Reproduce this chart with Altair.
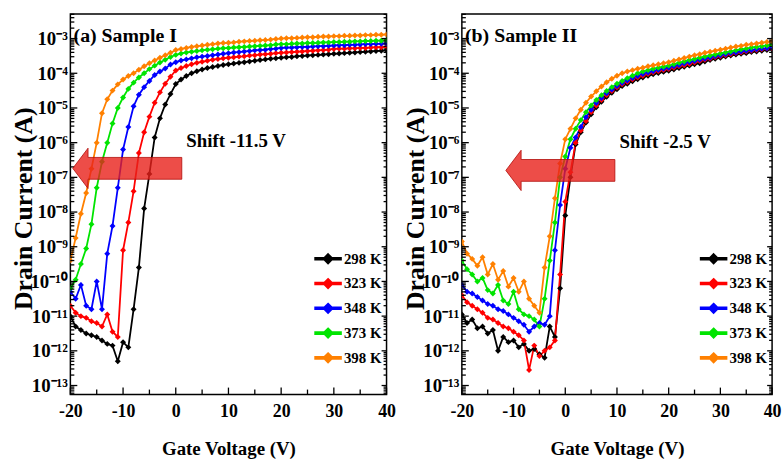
import math
import altair as alt
import pandas as pd

VOLTS = list(range(-20, 41))
TEMPS = ["298 K", "323 K", "348 K", "373 K", "398 K"]
COLORS = ["#000000", "#ff0000", "#0000ff", "#00e400", "#ff8000"]

# log10(Drain current / A), one value per volt from -20 V to 40 V
A_298 = [-11.0, -11.3, -11.4, -11.5, -11.55, -11.6, -11.7, -11.8, -11.85, -12.3,
         -11.75, -11.9, -10.8, -9.6, -7.9, -6.9, -5.85, -5.3, -4.9, -4.6,
         -4.31, -4.18, -4.08, -4.0, -3.94, -3.89, -3.85, -3.82, -3.79, -3.76,
         -3.74, -3.72, -3.70, -3.68, -3.66, -3.64, -3.62, -3.60, -3.58, -3.57,
         -3.55, -3.54, -3.53, -3.51, -3.50, -3.49, -3.48, -3.47, -3.46, -3.45,
         -3.44, -3.43, -3.42, -3.41, -3.40, -3.39, -3.38, -3.37, -3.36, -3.35, -3.34]
A_323 = [-10.7, -10.9, -11.0, -11.05, -11.15, -11.2, -11.3, -10.95, -11.45, -11.6,
         -9.1, -8.3, -7.4, -6.3, -5.7, -5.25, -4.85, -4.55, -4.3, -4.1,
         -3.92, -3.85, -3.79, -3.74, -3.70, -3.67, -3.64, -3.61, -3.59, -3.57,
         -3.55, -3.54, -3.52, -3.51, -3.49, -3.48, -3.46, -3.45, -3.44, -3.42,
         -3.41, -3.40, -3.39, -3.38, -3.37, -3.36, -3.35, -3.34, -3.33, -3.32,
         -3.30, -3.29, -3.29, -3.28, -3.28, -3.27, -3.27, -3.26, -3.25, -3.25, -3.24]
A_348 = [-10.3, -10.5, -10.1, -10.7, -10.8, -10.0, -10.8, -9.2, -8.4, -7.3,
         -6.2, -5.55, -4.95, -4.62, -4.40, -4.22, -4.05, -3.95, -3.86, -3.75,
         -3.68, -3.63, -3.60, -3.57, -3.54, -3.52, -3.50, -3.48, -3.46, -3.44,
         -3.42, -3.40, -3.39, -3.37, -3.36, -3.34, -3.33, -3.32, -3.30, -3.29,
         -3.27, -3.26, -3.26, -3.25, -3.24, -3.24, -3.23, -3.22, -3.22, -3.21,
         -3.20, -3.19, -3.19, -3.18, -3.18, -3.17, -3.16, -3.16, -3.15, -3.15, -3.14]
A_373 = [-10.2, -9.95, -9.5, -9.05, -8.35, -7.3, -6.55, -6.0, -5.45, -5.0,
         -4.7, -4.45, -4.27, -4.12, -4.0, -3.88, -3.78, -3.69, -3.61, -3.53,
         -3.47, -3.43, -3.40, -3.38, -3.36, -3.34, -3.32, -3.31, -3.29, -3.28,
         -3.27, -3.26, -3.25, -3.24, -3.23, -3.22, -3.21, -3.20, -3.19, -3.17,
         -3.16, -3.16, -3.15, -3.14, -3.14, -3.13, -3.13, -3.12, -3.11, -3.11,
         -3.10, -3.10, -3.09, -3.09, -3.08, -3.08, -3.07, -3.07, -3.06, -3.06, -3.05]
A_398 = [-9.4, -8.75, -8.05, -7.45, -6.75, -6.0, -5.15, -4.75, -4.5, -4.32,
         -4.18, -4.08, -4.0, -3.9, -3.8, -3.71, -3.63, -3.55, -3.48, -3.41,
         -3.33, -3.30, -3.27, -3.24, -3.22, -3.20, -3.18, -3.16, -3.14, -3.13,
         -3.12, -3.11, -3.09, -3.08, -3.07, -3.06, -3.05, -3.04, -3.03, -3.01,
         -3.00, -2.99, -2.99, -2.98, -2.97, -2.96, -2.96, -2.95, -2.94, -2.94,
         -2.93, -2.93, -2.92, -2.92, -2.91, -2.91, -2.90, -2.90, -2.89, -2.89, -2.88]

B_298 = [-10.95, -11.2, -11.1, -11.35, -11.3, -11.5, -11.4, -12.0, -11.6, -11.75,
         -11.7, -11.9, -11.8, -12.0, -11.95, -12.1, -12.2, -11.3, -11.6, -10.2,
         -8.1, -7.0, -6.05, -5.7, -5.42, -5.18, -4.98, -4.82, -4.68, -4.56,
         -4.46, -4.37, -4.30, -4.23, -4.17, -4.12, -4.07, -4.03, -3.99, -3.96,
         -3.93, -3.89, -3.85, -3.81, -3.78, -3.74, -3.71, -3.66, -3.62, -3.58,
         -3.55, -3.52, -3.49, -3.46, -3.44, -3.42, -3.39, -3.37, -3.35, -3.33, -3.31]
B_323 = [-10.4, -10.6, -10.7, -10.8, -10.9, -11.05, -11.1, -11.2, -11.3, -11.35,
         -11.45, -11.55, -11.7, -12.55, -11.85, -12.15, -12.0, -11.9, -11.7, -9.8,
         -7.7, -6.85, -6.0, -5.65, -5.38, -5.12, -4.93, -4.77, -4.63, -4.51,
         -4.41, -4.32, -4.25, -4.18, -4.12, -4.07, -4.02, -3.98, -3.94, -3.91,
         -3.88, -3.84, -3.80, -3.77, -3.73, -3.69, -3.65, -3.61, -3.58, -3.54,
         -3.51, -3.48, -3.45, -3.42, -3.40, -3.37, -3.35, -3.33, -3.31, -3.29, -3.27]
B_348 = [-10.1, -10.3, -10.35, -10.45, -10.55, -10.65, -10.7, -10.8, -10.85, -10.95,
         -11.05, -11.15, -11.25, -11.45, -11.3, -11.2, -11.25, -11.0, -9.1, -7.8,
         -6.75, -6.15, -5.85, -5.55, -5.27, -5.05, -4.86, -4.71, -4.58, -4.47,
         -4.37, -4.28, -4.21, -4.14, -4.08, -4.02, -3.98, -3.94, -3.90, -3.87,
         -3.84, -3.80, -3.76, -3.72, -3.68, -3.65, -3.61, -3.58, -3.55, -3.51,
         -3.48, -3.45, -3.42, -3.40, -3.37, -3.35, -3.33, -3.31, -3.29, -3.28, -3.26]
B_373 = [-9.4, -9.65, -9.8, -10.0, -9.9, -10.25, -10.35, -10.1, -10.55, -10.65,
         -10.3, -10.8, -10.95, -11.0, -11.1, -11.3, -10.5, -9.4, -8.3, -7.0,
         -6.4, -5.9, -5.6, -5.35, -5.12, -4.93, -4.77, -4.63, -4.51, -4.40,
         -4.30, -4.22, -4.14, -4.07, -4.0, -3.95, -3.91, -3.87, -3.84, -3.81,
         -3.78, -3.74, -3.70, -3.66, -3.62, -3.59, -3.55, -3.52, -3.49, -3.46,
         -3.43, -3.40, -3.37, -3.34, -3.31, -3.29, -3.26, -3.24, -3.22, -3.20, -3.18]
B_398 = [-8.85, -9.2, -9.35, -9.55, -9.3, -9.8, -9.5, -9.95, -9.7, -10.15,
         -9.9, -10.3, -10.0, -10.5, -10.7, -10.9, -9.6, -8.7, -7.6, -6.6,
         -5.9, -5.6, -5.3, -5.05, -4.85, -4.67, -4.52, -4.38, -4.26, -4.16,
         -4.07, -4.0, -3.95, -3.91, -3.87, -3.84, -3.80, -3.77, -3.74, -3.71,
         -3.68, -3.64, -3.60, -3.56, -3.52, -3.48, -3.45, -3.41, -3.38, -3.35,
         -3.32, -3.29, -3.26, -3.23, -3.21, -3.18, -3.16, -3.14, -3.12, -3.10, -3.08]

X_TICKS = [-20, -10, 0, 10, 20, 30, 40]
X_MINOR = [-15, -5, 5, 15, 25, 35]
Y_EXPONENTS = list(range(-13, -2))
Y_MAJOR = [10.0 ** e for e in Y_EXPONENTS]
Y_TICK_LABELS = ["10⁻¹³", "10⁻¹²", "10⁻¹¹", "10⁻¹⁰", "10⁻⁹", "10⁻⁸",
                 "10⁻⁷", "10⁻⁶", "10⁻⁵", "10⁻⁴", "10⁻³"]
Y_MIN_EXP, Y_MAX_EXP = -13.26, -2.29
Y_MINOR = [m * 10.0 ** e for e in range(-14, -2) for m in range(2, 10)
           if Y_MIN_EXP < e + math.log10(m) < Y_MAX_EXP]

PANEL_TITLES = ["(a) Sample I", "(b) Sample II"]
TITLE_POS = [(-19.4, -2.94), (-19.4, -2.94)]
SHIFT_TEXTS = ["Shift -11.5 V", "Shift -2.5 V"]
SHIFT_POS = [(2.0, -5.94), (10.5, -5.97)]
ARROW_POS = [(-9.2, -6.74), (-0.95, -6.8)]
LEGEND_X = [246, 240]
PANEL_W = [319, 313]
H = 384

FONT = "Liberation Serif"
ARROW_PATH = "M-1,0L-0.72,-0.37L-0.72,-0.2L1,-0.2L1,0.2L-0.72,0.2L-0.72,0.37Z"
LEGEND_SYMBOL = "M-1,-0.07H1V0.07H-1Z M0,-0.36L0.36,0L0,0.36L-0.36,0Z"


def panel(series, idx):
    rows = []
    for t, arr in zip(TEMPS, series):
        for v, lg in zip(VOLTS, arr):
            rows.append({"V": v, "I": 10.0 ** lg, "T": t})
    df = pd.DataFrame(rows)

    x_enc = alt.X("V:Q", scale=alt.Scale(domain=[-20, 40], nice=False, zero=False),
                  axis=alt.Axis(values=X_TICKS, labelExpr="'' + datum.value",
                                title="Gate Voltage (V)", ticks=False, domain=False, grid=False,
                                labelFont=FONT, labelFontSize=18, labelFontWeight="bold",
                                labelColor="black", labelPadding=8, labelFlush=False,
                                labelOverlap=False, titleFont=FONT, titleFontSize=19,
                                titleFontWeight="bold", titleColor="black", titleY=55,
                                titleBaseline="middle"))
    label_expr = "%s[round(log(datum.value)/LN10)+13]" % str(Y_TICK_LABELS).replace("'", '"')
    y_enc = alt.Y("I:Q", scale=alt.Scale(type="log", domain=[10 ** Y_MIN_EXP, 10 ** Y_MAX_EXP], nice=False),
                  axis=alt.Axis(values=Y_MAJOR, labelExpr=label_expr, title="Drain Current (A)",
                                ticks=False, domain=False, grid=False, labelFont=FONT,
                                labelFontSize=19, labelFontWeight="bold", labelColor="black",
                                labelPadding=3, labelOverlap=False, labelFlush=False,
                                titleFont=FONT, titleFontSize=26, titleFontWeight="bold",
                                titleColor="black", titleX=-47, titleY=H / 2 + 4,
                                titleBaseline="middle", titleAlign="center"))

    lines = alt.Chart(df).mark_line(
        strokeWidth=1.8, clip=True,
        point=alt.OverlayMarkDef(shape="diamond", filled=True, size=36)
    ).encode(
        x=x_enc, y=y_enc,
        color=alt.Color("T:N", scale=alt.Scale(domain=TEMPS, range=COLORS),
                        legend=alt.Legend(title=None, orient="none", legendX=LEGEND_X[idx], legendY=233,
                                          symbolType=LEGEND_SYMBOL, symbolSize=676, symbolStrokeWidth=1.8,
                                          labelFont=FONT, labelFontSize=15, labelFontWeight="bold",
                                          labelColor="black", rowPadding=2, labelOffset=2, padding=0)),
    )

    left = pd.DataFrame({"V": [-20] * len(Y_MAJOR), "I": Y_MAJOR})
    right = pd.DataFrame({"V": [40] * len(Y_MAJOR), "I": Y_MAJOR})
    left_m = pd.DataFrame({"V": [-20] * len(Y_MINOR), "I": Y_MINOR})
    right_m = pd.DataFrame({"V": [40] * len(Y_MINOR), "I": Y_MINOR})
    bot = pd.DataFrame({"V": X_TICKS, "I": [10 ** Y_MIN_EXP] * len(X_TICKS)})
    bot_m = pd.DataFrame({"V": X_MINOR, "I": [10 ** Y_MIN_EXP] * len(X_MINOR)})

    def hticks(d, length):
        return alt.Chart(d).mark_rule(x2Offset=length, strokeWidth=1.3, color="black").encode(
            x=x_enc, x2="V:Q", y=y_enc)

    def vticks(d, length):
        return alt.Chart(d).mark_rule(y2Offset=-length, strokeWidth=1.3, color="black").encode(
            x=x_enc, y=y_enc, y2="I:Q")

    tick_layers = [hticks(left, 7), hticks(right, -5), hticks(left_m, 4), hticks(right_m, -3),
                   vticks(bot, 7), vticks(bot_m, 5)]

    av, al = ARROW_POS[idx]
    arrow = alt.Chart(pd.DataFrame({"V": [av], "I": [10 ** al]})).mark_point(
        shape=ARROW_PATH, size=110 * 110, filled=True, fill="#e8201a", fillOpacity=0.8,
        stroke="#b00c08", strokeWidth=1, strokeOpacity=0.8
    ).encode(x=x_enc, y=y_enc)

    sv, sl = SHIFT_POS[idx]
    shift = alt.Chart(pd.DataFrame({"V": [sv], "I": [10 ** sl], "txt": [SHIFT_TEXTS[idx]]})).mark_text(
        align="left", baseline="middle", font=FONT, fontSize=19, fontWeight="bold", color="black"
    ).encode(x=x_enc, y=y_enc, text="txt:N")

    tv, tl = TITLE_POS[idx]
    ptitle = alt.Chart(pd.DataFrame({"V": [tv], "I": [10 ** tl], "txt": [PANEL_TITLES[idx]]})).mark_text(
        align="left", baseline="middle", font=FONT, fontSize=20, fontWeight="bold", color="black"
    ).encode(x=x_enc, y=y_enc, text="txt:N")

    return alt.layer(lines, *tick_layers, arrow, shift, ptitle).properties(width=PANEL_W[idx], height=H)


pa = panel([A_298, A_323, A_348, A_373, A_398], 0)
pb = panel([B_298, B_323, B_348, B_373, B_398], 1)

chart = alt.hconcat(pa, pb, spacing=5).resolve_legend(color="independent").properties(
    padding={"left": 10, "top": 10, "right": 0, "bottom": 0},
    background="white",
).configure_view(stroke="black", strokeWidth=1.5)

chart.save("out.html", embed_options={"renderer": "svg", "actions": False})
